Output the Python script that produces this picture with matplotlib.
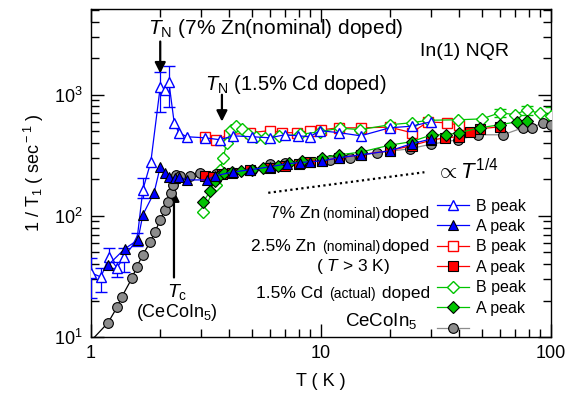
import numpy as np
import matplotlib
matplotlib.use("Agg")
import matplotlib.pyplot as plt
from matplotlib.lines import Line2D
from matplotlib.ticker import FuncFormatter, NullFormatter, LogLocator
from matplotlib.offsetbox import TextArea, HPacker, AnnotationBbox

FONT = "Liberation Sans"
plt.rcParams["font.family"] = [FONT, "DejaVu Sans"]
plt.rcParams["mathtext.fontset"] = "custom"
plt.rcParams["mathtext.rm"] = FONT
plt.rcParams["mathtext.it"] = FONT + ":italic"
plt.rcParams["mathtext.bf"] = FONT + ":bold"

# 7% Zn (nominal) doped
zn7_B_T = [1.0, 1.105, 1.197, 1.297, 1.39, 1.585, 1.68, 1.82, 2.0, 2.10, 2.18, 2.30, 2.41,
           2.61, 3.13, 3.64, 4.14, 5.0, 6.0, 6.96, 7.93, 8.95, 9.9, 12.0, 14.9, 19.9, 24.8, 30.0]
zn7_B_y = [33.8, 31.3, 45.8, 37.2, 45.8, 63.4, 164, 279, 1164, 1100, 1280, 587, 486,
           450, 441, 425, 458, 450, 441, 467, 458, 450, 505, 486, 458, 533, 550, 597]
zn7_err_T = [1.0, 1.105, 1.197, 1.297, 1.39, 1.585, 1.68, 2.0, 2.18]
zn7_err_lo = [21, 23.5, 37.2, 31.3, 34.4, 56, 141, 724, 796]
zn7_err_hi = [45, 37.2, 54.5, 41.7, 54.5, 72, 206, 1550, 1738]
zn7_A_T = [1.19, 1.40, 1.60, 1.68, 1.88, 2.0, 2.10, 2.18, 2.32, 2.41, 2.61, 3.19, 3.46, 4.14,
           4.91, 6.0, 7.1, 8.1, 8.95, 10.1, 12.0, 14.9, 19.9, 24.8, 30.0]
zn7_A_y = [39.4, 53.4, 63.4, 102, 155, 254, 226, 210, 206, 210, 198, 198, 214, 230,
           240, 254, 269, 275, 280, 284, 302, 319, 344, 394, 430]

# 2.5% Zn (nominal) doped, T > 3 K
zn25_B_T = [3.13, 3.5, 4.0, 4.9, 6.0, 6.8, 7.9, 8.95, 10.0, 12.0, 14.9, 19.9, 24.8, 29.2, 35.3, 40.0]
zn25_B_y = [450, 425, 467, 486, 505, 486, 486, 505, 514, 533, 533, 540, 486, 597, 586, 560]
zn25_A_T = [3.13, 3.4, 3.7, 4.1, 4.9, 6.0, 7.0, 8.0, 9.0, 10.1, 12.0, 14.9, 19.9, 24.8, 30.0,
            34.6, 39.8, 44.4, 49.2, 60.0]
zn25_A_y = [215, 210, 220, 225, 240, 250, 260, 270, 280, 285, 300, 320, 345, 380, 420,
            441, 450, 495, 524, 543]

# 1.5% Cd (actual) doped
cd_B_T = [3.07, 3.5, 3.64, 3.75, 3.9, 4.06, 4.27, 4.53, 4.8, 5.2, 5.7, 6.6, 8.1, 9.9, 12.1,
          14.8, 19.9, 24.8, 29.2, 39.4, 50.2, 60.0, 69.7, 78.6, 89.6, 100]
cd_B_y = [108, 180, 240, 300, 400, 510, 550, 520, 470, 445, 440, 455, 470, 495, 530,
          515, 565, 587, 615, 621, 632, 710, 685, 752, 700, 670]
cd_err_T = [60.0, 78.6, 100]
cd_err_lo = [660, 685, 621]
cd_err_hi = [760, 811, 795]
cd_A_T = [3.07, 3.3, 3.45, 3.6, 3.8, 4.1, 4.5, 5.0, 5.6, 6.5, 7.3, 8.3, 10.1, 12.0, 14.9,
          19.9, 24.8, 30.4, 35.0, 39.8, 49.0, 60.0, 71.0, 78.6]
cd_A_y = [130, 160, 195, 215, 225, 230, 235, 240, 250, 260, 275, 285, 302, 319, 336,
          383, 410, 467, 467, 486, 533, 565, 597, 608]

# CeCoIn5
ce_T = [1.185, 1.30, 1.36, 1.51, 1.58, 1.68, 1.81, 1.90, 2.0, 2.10, 2.16, 2.22, 2.28, 2.35,
        2.45, 2.7, 2.98, 3.5, 4.0, 5.0, 6.0, 7.0, 8.5, 10.9, 13.4, 17.5, 24.4, 30.0, 39.4,
        48.0, 62.0, 75.5, 82.6, 92.3, 100]
ce_y = [13.1, 17.7, 21.4, 30.8, 37.9, 47.7, 60.9, 73.8, 92.7, 112, 131, 155, 180, 218,
        212, 215, 225, 222, 228, 238, 270, 275, 280, 290, 302, 332, 358, 390, 425,
        467, 467, 533, 533, 587, 560]
ce_Tc = 2.35

# T^(1/4) guide
guide_T = np.array([5.9, 28.2])
guide_y = 155 * (guide_T / guide_T[0]) ** 0.25

BLUE, RED, GREEN, GREY = "#0000ff", "#ff0000", "#00c400", "#8c8c8c"


def bars(T_all, y_all, T_sel, lo, hi):
    y = np.array([y_all[T_all.index(t)] for t in T_sel])
    return y, [y - np.array(lo), np.array(hi) - y]


fig = plt.figure(figsize=(5.69, 3.99), dpi=100)
ax = fig.add_axes([0.160, 0.1554, 0.808, 0.822])

ms = 7
lw = 0.9
ax.plot(zn25_B_T, zn25_B_y, color=RED, lw=lw, marker="s", ms=ms, mfc="white", mec=RED, zorder=3)
ax.plot(cd_B_T, cd_B_y, color=GREEN, lw=lw, marker="D", ms=ms - 0.5, mfc="white", mec=GREEN, zorder=3)
cy, cerr = bars(cd_B_T, cd_B_y, cd_err_T, cd_err_lo, cd_err_hi)
ax.errorbar(cd_err_T, cy, yerr=cerr, fmt="none", ecolor=GREEN, elinewidth=lw, capsize=4, zorder=2)
zy, zerr = bars(zn7_B_T, zn7_B_y, zn7_err_T, zn7_err_lo, zn7_err_hi)
ax.errorbar(zn7_err_T, zy, yerr=zerr, fmt="none", ecolor=BLUE, elinewidth=lw, capsize=4, zorder=3)
ax.plot(zn7_B_T, zn7_B_y, color=BLUE, lw=lw, marker="^", ms=ms + 0.5, mfc="white", mec=BLUE, zorder=4)

ce_T_arr = np.array(ce_T)
ce_y_arr = np.array(ce_y)
ax.plot(ce_T_arr[ce_T_arr >= ce_Tc], ce_y_arr[ce_T_arr >= ce_Tc], color=GREY, lw=lw, zorder=4)
ax.plot(ce_T_arr[ce_T_arr <= ce_Tc], ce_y_arr[ce_T_arr <= ce_Tc], color="black", lw=lw, zorder=4)
ax.plot([1.0, ce_T[0]], [9.3, ce_y[0]], color="black", lw=lw, zorder=4)
ax.plot(ce_T, ce_y, ls="none", marker="o", ms=ms, mfc=GREY, mec="black", mew=0.8, zorder=5)

ax.plot(zn25_A_T, zn25_A_y, color=RED, lw=lw, marker="s", ms=ms, mfc=RED, mec="black", mew=0.8, zorder=6)
ax.plot(cd_A_T, cd_A_y, color=GREEN, lw=lw, marker="D", ms=ms - 0.5, mfc=GREEN, mec="black", mew=0.8, zorder=6)
ax.plot(zn7_A_T, zn7_A_y, color=BLUE, lw=lw, marker="^", ms=ms + 0.5, mfc=BLUE, mec="black", mew=0.8, zorder=7)

ax.plot(guide_T, guide_y, color="black", ls=(0, (1, 1.5)), lw=1.6)

ax.set_xscale("log")
ax.set_yscale("log")
ax.set_xlim(1, 100)
ax.set_ylim(10, 5100)
ax.xaxis.set_major_formatter(FuncFormatter(lambda v, p: f"{v:g}"))
ax.xaxis.set_minor_formatter(NullFormatter())
ax.yaxis.set_minor_locator(LogLocator(subs=np.arange(2, 10)))
ax.yaxis.set_minor_formatter(NullFormatter())
ax.tick_params(which="both", direction="in", top=True, right=True, labelsize=13, width=1)
ax.tick_params(which="major", length=9.5, pad=6)
ax.tick_params(which="minor", length=5.5)
for s in ax.spines.values():
    s.set_linewidth(1)

ax.set_xlabel("T ( K )", fontsize=13, labelpad=8)
ax.set_ylabel(r"1 / T$_1$ ( sec$^{\rm -1}$ )", fontsize=13, labelpad=6)

arrow = dict(arrowstyle="-|>", color="black", lw=1.6, mutation_scale=16, shrinkA=0, shrinkB=0)
ax.annotate("", xy=(2.0, 1500), xytext=(2.0, 2750), arrowprops=arrow)
ax.text(1.77, 3550, r"$T_{\rm N}$ (7% Zn(nominal) doped)", fontsize=15, va="center")
ax.annotate("", xy=(3.71, 600), xytext=(3.71, 1000), arrowprops=arrow)
ax.text(3.13, 1210, r"$T_{\rm N}$ (1.5% Cd doped)", fontsize=14.5, va="center")
ax.annotate("", xy=(2.295, 162), xytext=(2.295, 31), arrowprops=arrow)
ax.text(2.37, 23.5, r"$T_{\rm c}$", fontsize=14, ha="center", va="center")
ax.text(2.37, 15.8, r"(CeCoIn$_5$)", fontsize=13, ha="center", va="center")
ax.text(27.0, 2265, "In(1) NQR", fontsize=14, va="center")
ax.text(31.8, 231, r"$\propto T^{1/4}$", fontsize=16, va="center")

handles = [
    Line2D([], [], color=BLUE, lw=lw, marker="^", ms=ms + 0.5, mfc="white", mec=BLUE),
    Line2D([], [], color=BLUE, lw=lw, marker="^", ms=ms + 0.5, mfc=BLUE, mec="black", mew=0.8),
    Line2D([], [], color=RED, lw=lw, marker="s", ms=ms, mfc="white", mec=RED),
    Line2D([], [], color=RED, lw=lw, marker="s", ms=ms, mfc=RED, mec="black", mew=0.8),
    Line2D([], [], color=GREEN, lw=lw, marker="D", ms=ms - 0.5, mfc="white", mec=GREEN),
    Line2D([], [], color=GREEN, lw=lw, marker="D", ms=ms - 0.5, mfc=GREEN, mec="black", mew=0.8),
    Line2D([], [], color=GREY, lw=lw, marker="o", ms=ms, mfc=GREY, mec="black", mew=0.8),
]
labels = ["B peak", "A peak", "B peak", "A peak", "B peak", "A peak", ""]
ax.legend(handles, labels, loc="upper left", bbox_to_anchor=(0.752, 0.422), frameon=False,
          fontsize=11.5, handlelength=2.0, handletextpad=0.45, labelspacing=0.34,
          borderpad=0, borderaxespad=0)


def group_label(parts, xy):
    boxes = [TextArea(s, textprops=dict(fontsize=fs)) for s, fs in parts]
    pack = HPacker(children=boxes, align="baseline", pad=0, sep=1)
    ab = AnnotationBbox(pack, xy, xycoords="axes fraction", box_alignment=(1, 0.5),
                        frameon=False, pad=0)
    ax.add_artist(ab)


group_label([("7% Zn", 12.5), ("(nominal)", 10), ("doped", 12.5)], (0.737, 0.378))
group_label([("2.5% Zn ", 12.5), ("(nominal)", 10), ("doped", 12.5)], (0.737, 0.277))
ax.text(0.570, 0.216, r"( $T$ > 3 K)", transform=ax.transAxes, fontsize=12.5, ha="center", va="center")
group_label([("1.5% Cd ", 12.5), ("(actual)", 10), (" doped", 12.5)], (0.737, 0.134))
group_label([(r"CeCoIn$_5$", 13.5)], (0.709, 0.050))

fig.savefig("out.png", dpi=100)
